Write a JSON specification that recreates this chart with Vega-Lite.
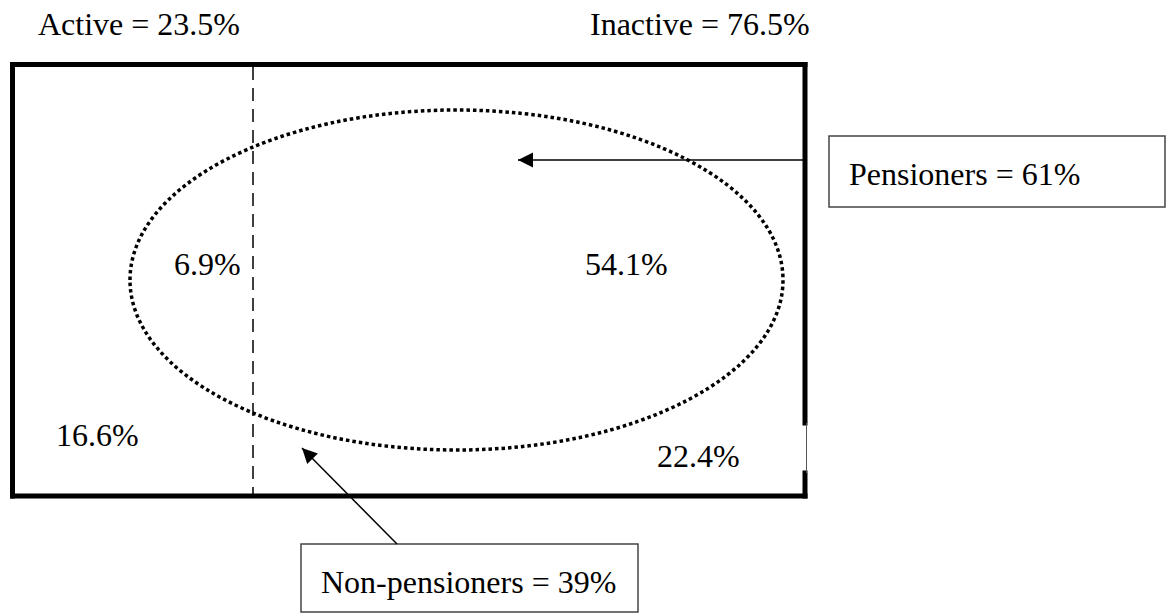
{
  "$schema": "https://vega.github.io/schema/vega-lite/v6.json",
  "width": 1167,
  "height": 614,
  "autosize": {"type": "fit", "contains": "padding"},
  "padding": 0,
  "background": "white",
  "config": {"view": {"stroke": null}},
  "datasets": {
    "frame": [
      {"x": 12.5, "y": 64.5, "x2": 805, "y2": 64.5},
      {"x": 12.5, "y": 64.5, "x2": 12.5, "y2": 496},
      {"x": 12.5, "y": 496, "x2": 805, "y2": 496},
      {"x": 805, "y": 64.5, "x2": 805, "y2": 423},
      {"x": 805, "y": 473, "x2": 805, "y2": 496}
    ],
    "gap": [{"x": 806.5, "y": 423, "x2": 806.5, "y2": 473}],
    "divider": [{"x": 253, "y": 67, "x2": 253, "y2": 494}],
    "ellipse": [{"x": 456.5, "y": 280}],
    "arrows": [
      {"x": 805, "y": 160, "x2": 518, "y2": 160, "heading": 180},
      {"x": 397, "y": 544, "x2": 302, "y2": 448, "heading": 225.3}
    ],
    "boxes": [
      {"x": 829, "y": 136, "x2": 1165, "y2": 207},
      {"x": 301, "y": 544, "x2": 638, "y2": 612}
    ],
    "labels": [
      {"x": 38, "y": 35, "text": "Active = 23.5%"},
      {"x": 590, "y": 35, "text": "Inactive = 76.5%"},
      {"x": 174, "y": 275, "text": "6.9%"},
      {"x": 585, "y": 275, "text": "54.1%"},
      {"x": 56, "y": 446, "text": "16.6%"},
      {"x": 657, "y": 467, "text": "22.4%"},
      {"x": 849, "y": 185, "text": "Pensioners = 61%"},
      {"x": 321, "y": 593, "text": "Non-pensioners = 39%"}
    ]
  },
  "encoding": {
    "x": {"field": "x", "type": "quantitative", "scale": {"domain": [0, 1167], "nice": false, "zero": false}, "axis": null},
    "y": {"field": "y", "type": "quantitative", "scale": {"domain": [0, 614], "nice": false, "zero": false, "reverse": true}, "axis": null}
  },
  "layer": [
    {
      "data": {"name": "boxes"},
      "mark": {"type": "rect", "fill": null, "stroke": "#444444", "strokeWidth": 1.5},
      "encoding": {"x2": {"field": "x2"}, "y2": {"field": "y2"}}
    },
    {
      "data": {"name": "frame"},
      "mark": {"type": "rule", "stroke": "black", "strokeWidth": 5, "strokeCap": "square"},
      "encoding": {"x2": {"field": "x2"}, "y2": {"field": "y2"}}
    },
    {
      "data": {"name": "gap"},
      "mark": {"type": "rule", "stroke": "#555555", "strokeWidth": 1},
      "encoding": {"x2": {"field": "x2"}, "y2": {"field": "y2"}}
    },
    {
      "data": {"name": "divider"},
      "mark": {"type": "rule", "stroke": "black", "strokeWidth": 1.5, "strokeDash": [13, 8]},
      "encoding": {"x2": {"field": "x2"}, "y2": {"field": "y2"}}
    },
    {
      "data": {"name": "ellipse"},
      "mark": {"type": "point", "filled": false, "shape": "M -1 0 A 1 0.5207 0 1 1 1 0 A 1 0.5207 0 1 1 -1 0 Z", "size": 426409, "stroke": "black", "strokeWidth": 3.5, "strokeDash": [3.5, 3], "opacity": 1}
    },
    {
      "data": {"name": "arrows"},
      "mark": {"type": "rule", "stroke": "black", "strokeWidth": 1.5},
      "encoding": {"x2": {"field": "x2"}, "y2": {"field": "y2"}}
    },
    {
      "data": {"name": "arrows"},
      "mark": {"type": "point", "filled": true, "shape": "M 0 0 L -2 -1 L -2 1 Z", "size": 225, "color": "black", "opacity": 1},
      "encoding": {
        "x": {"field": "x2", "type": "quantitative"},
        "y": {"field": "y2", "type": "quantitative"},
        "angle": {"field": "heading", "type": "quantitative", "scale": null}
      }
    },
    {
      "data": {"name": "labels"},
      "mark": {"type": "text", "font": "Liberation Serif", "fontSize": 32, "align": "left", "baseline": "alphabetic", "color": "black"},
      "encoding": {"text": {"field": "text"}}
    }
  ]
}
